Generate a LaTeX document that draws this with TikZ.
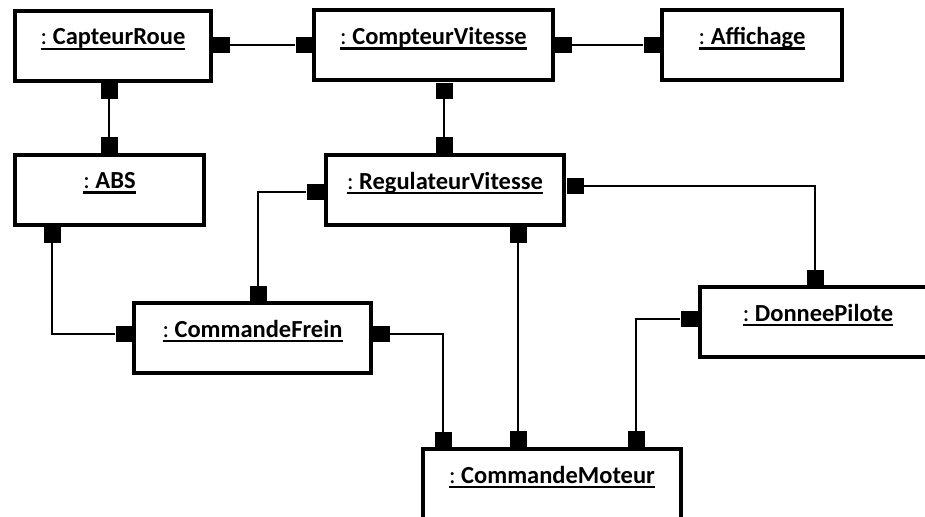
\documentclass[tikz,border=0pt]{standalone}
\usepackage{fontspec}
\setmainfont{Carlito}
\usetikzlibrary{calc}

% object name: regular colon, bold class name, heavy underline at a fixed depth
\newcommand{\objname}[1]{%
  \setbox0\hbox{{\mdseries:}~\textbf{#1}}%
  \rlap{\rule[-5.3pt]{\wd0}{2.7pt}}\box0}

\tikzset{
  objbox/.style={draw=black, line width=4pt, fill=white, rectangle,
    minimum height=70pt, inner sep=0pt},
  objlabel/.style={anchor=base, inner sep=0pt, yshift=-36pt,
    font=\fontsize{24.5}{28}\selectfont},
  port/.style={fill=black, draw=none, rectangle, minimum width=17pt,
    minimum height=16pt, inner sep=0pt},
  link/.style={draw=black, line width=1.4pt}
}

\begin{document}
\begin{tikzpicture}[x=1pt, y=-1pt]
\useasboundingbox (0,0) rectangle (925,516);
\clip (0,0) rectangle (925,516);

% objects
\node[objbox, minimum width=196pt] (cap)  at (113,46)    {};
\node[objbox, minimum width=239pt] (comp) at (433.5,45.5) {};
\node[objbox, minimum width=180pt] (aff)  at (752,45.5)  {};
\node[objbox, minimum width=189pt] (abs)  at (109.5,189.5) {};
\node[objbox, minimum width=238pt] (reg)  at (445,190)   {};
\node[objbox, minimum width=237pt] (frein) at (252.5,338) {};
\node[objbox, minimum width=236pt] (pil)  at (818,322)   {};
\node[objbox, minimum width=258pt] (mot)  at (552,484)   {};

\node[objlabel] (cap-t)   at (cap.north)   {\objname{CapteurRoue}};
\node[objlabel] (comp-t)  at (comp.north)  {\objname{CompteurVitesse}};
\node[objlabel] (aff-t)   at (aff.north)   {\objname{Affichage}};
\node[objlabel] (abs-t)   at (abs.north)   {\objname{ABS}};
\node[objlabel] (reg-t)   at (reg.north)   {\objname{RegulateurVitesse}};
\node[objlabel] (frein-t) at (frein.north) {\objname{CommandeFrein}};
\node[objlabel] (pil-t)   at (pil.north)   {\objname{DonneePilote}};
\node[objlabel] (mot-t)   at (mot.north)   {\objname{CommandeMoteur}};

% ports
\node[port] (capR)   at (221,45)  {};
\node[port] (capB)   at (109,91)  {};
\node[port] (compL)  at (304,45)  {};
\node[port] (compR)  at (563,45)  {};
\node[port] (compB)  at (444,91)  {};
\node[port] (affL)   at (652,45)  {};
\node[port] (absT)   at (109,145) {};
\node[port] (absB)   at (52,235)  {};
\node[port] (regT)   at (444,145) {};
\node[port] (regL)   at (315,192) {};
\node[port] (regR)   at (575,186) {};
\node[port] (regB)   at (518,235) {};
\node[port] (freinL) at (124,334) {};
\node[port] (freinT) at (258,294) {};
\node[port] (freinR) at (381,334) {};
\node[port] (pilT)   at (815,278) {};
\node[port] (pilL)   at (689,319) {};
\node[port] (motA)   at (443,440) {};
\node[port] (motB)   at (518,439) {};
\node[port] (motC)   at (636,439) {};

% links
\draw[link] (capR) -- (compL);
\draw[link] (compR) -- (affL);
\draw[link] (capB) -- (absT);
\draw[link] (compB) -- (regT);
\draw[link] (absB) |- (freinL);
\draw[link] (freinT) |- (regL);
\draw[link] (regR) -| (pilT);
\draw[link] (regB) -- (motB);
\draw[link] (freinR) -| (motA);
\draw[link] (pilL) -| (motC);
\end{tikzpicture}
\end{document}
